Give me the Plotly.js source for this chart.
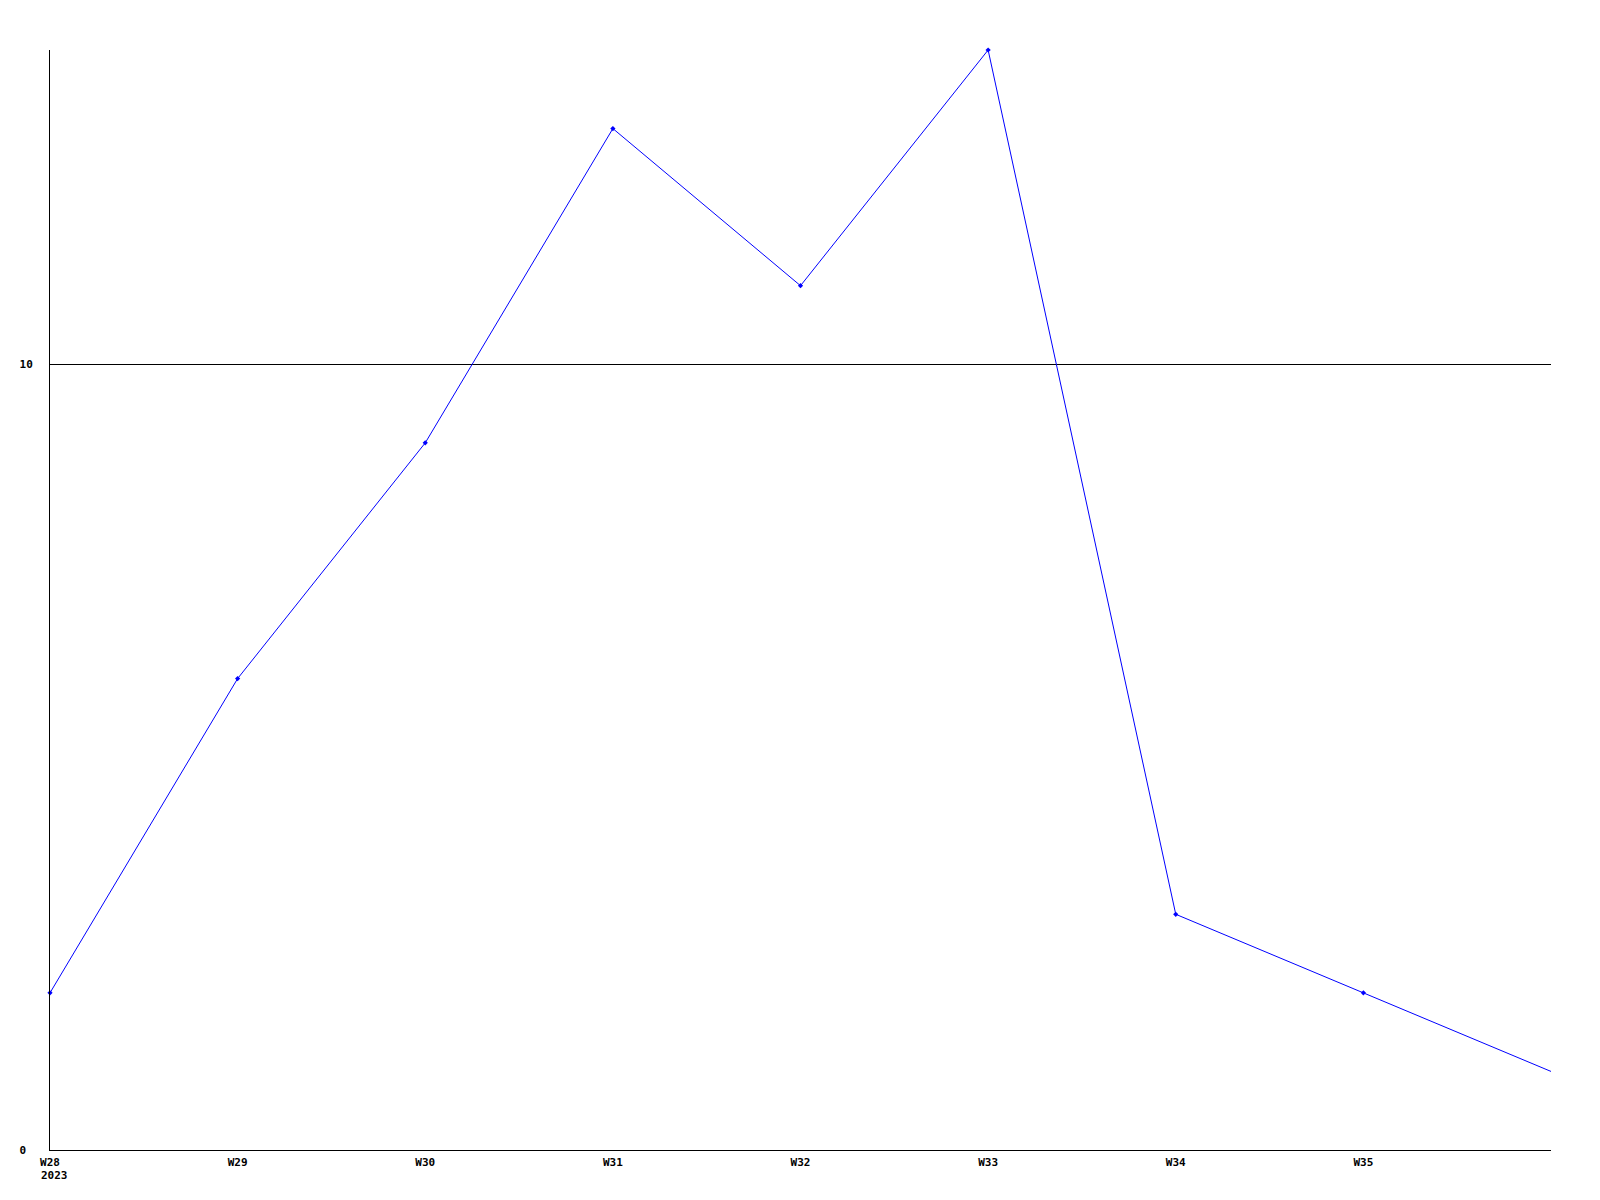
<!DOCTYPE html>
<html>
<head>
<meta charset="utf-8">
<script src="https://cdn.plot.ly/plotly-3.0.1.min.js"></script>
<style>html,body{margin:0;padding:0;background:#fff;}#chart{width:1600px;height:1200px;}</style>
</head>
<body>
<div id="chart"></div>
<script>
const weekNums = [28, 29, 30, 31, 32, 33, 34, 35, 36];
const weekLabels = ['W28', 'W29', 'W30', 'W31', 'W32', 'W33', 'W34', 'W35', 'W36'];
const values = [2, 6, 9, 13, 11, 14, 3, 2, 1];
const yearLabel = '2023';
const yTicks = [0, 10];

const font = {family: '"DejaVu Sans Mono", "Liberation Mono", monospace', size: 11, color: '#000', weight: 'bold'};

// the last point (the week still in progress) is drawn without a marker
const markerOpacity = values.map((v, i) => (i === values.length - 1 ? 0 : 1));

const trace = {
  x: weekNums,
  y: values,
  mode: 'lines+markers',
  line: {color: '#0000ff', width: 1},
  marker: {color: '#0000ff', size: 4, symbol: 'diamond', opacity: markerOpacity},
  hoverinfo: 'x+y',
  cliponaxis: false
};

const maxLen = Math.max(...yTicks.map(t => String(t).length));

const layout = {
  width: 1600,
  height: 1200,
  margin: {l: 50, r: 49, t: 50, b: 50},
  paper_bgcolor: '#ffffff',
  plot_bgcolor: '#ffffff',
  showlegend: false,
  font: font,
  xaxis: {
    range: [weekNums[0], weekNums[weekNums.length - 1]],
    tickmode: 'array',
    tickvals: weekNums.slice(0, -1),
    ticktext: weekLabels.slice(0, -1),
    showgrid: false,
    zeroline: false,
    showline: true,
    linecolor: '#000',
    linewidth: 1,
    ticks: '',
    ticklabelstandoff: 2,
    tickfont: font
  },
  yaxis: {
    range: [0, 14],
    tickmode: 'array',
    tickvals: yTicks,
    ticktext: yTicks.map(t => String(t) + '\u00a0'.repeat(maxLen - String(t).length)),
    showgrid: true,
    gridcolor: '#000',
    gridwidth: 1,
    zeroline: false,
    showline: true,
    linecolor: '#000',
    linewidth: 1,
    ticks: '',
    ticklabelstandoff: 14,
    tickfont: font
  },
  annotations: [{
    xref: 'x', yref: 'paper',
    x: weekNums[0], y: 0,
    xanchor: 'left', yanchor: 'top',
    xshift: -11, yshift: -17,
    text: yearLabel,
    showarrow: false,
    font: font
  }]
};

Plotly.newPlot('chart', [trace], layout, {displayModeBar: false, staticPlot: true});
</script>
</body>
</html>
